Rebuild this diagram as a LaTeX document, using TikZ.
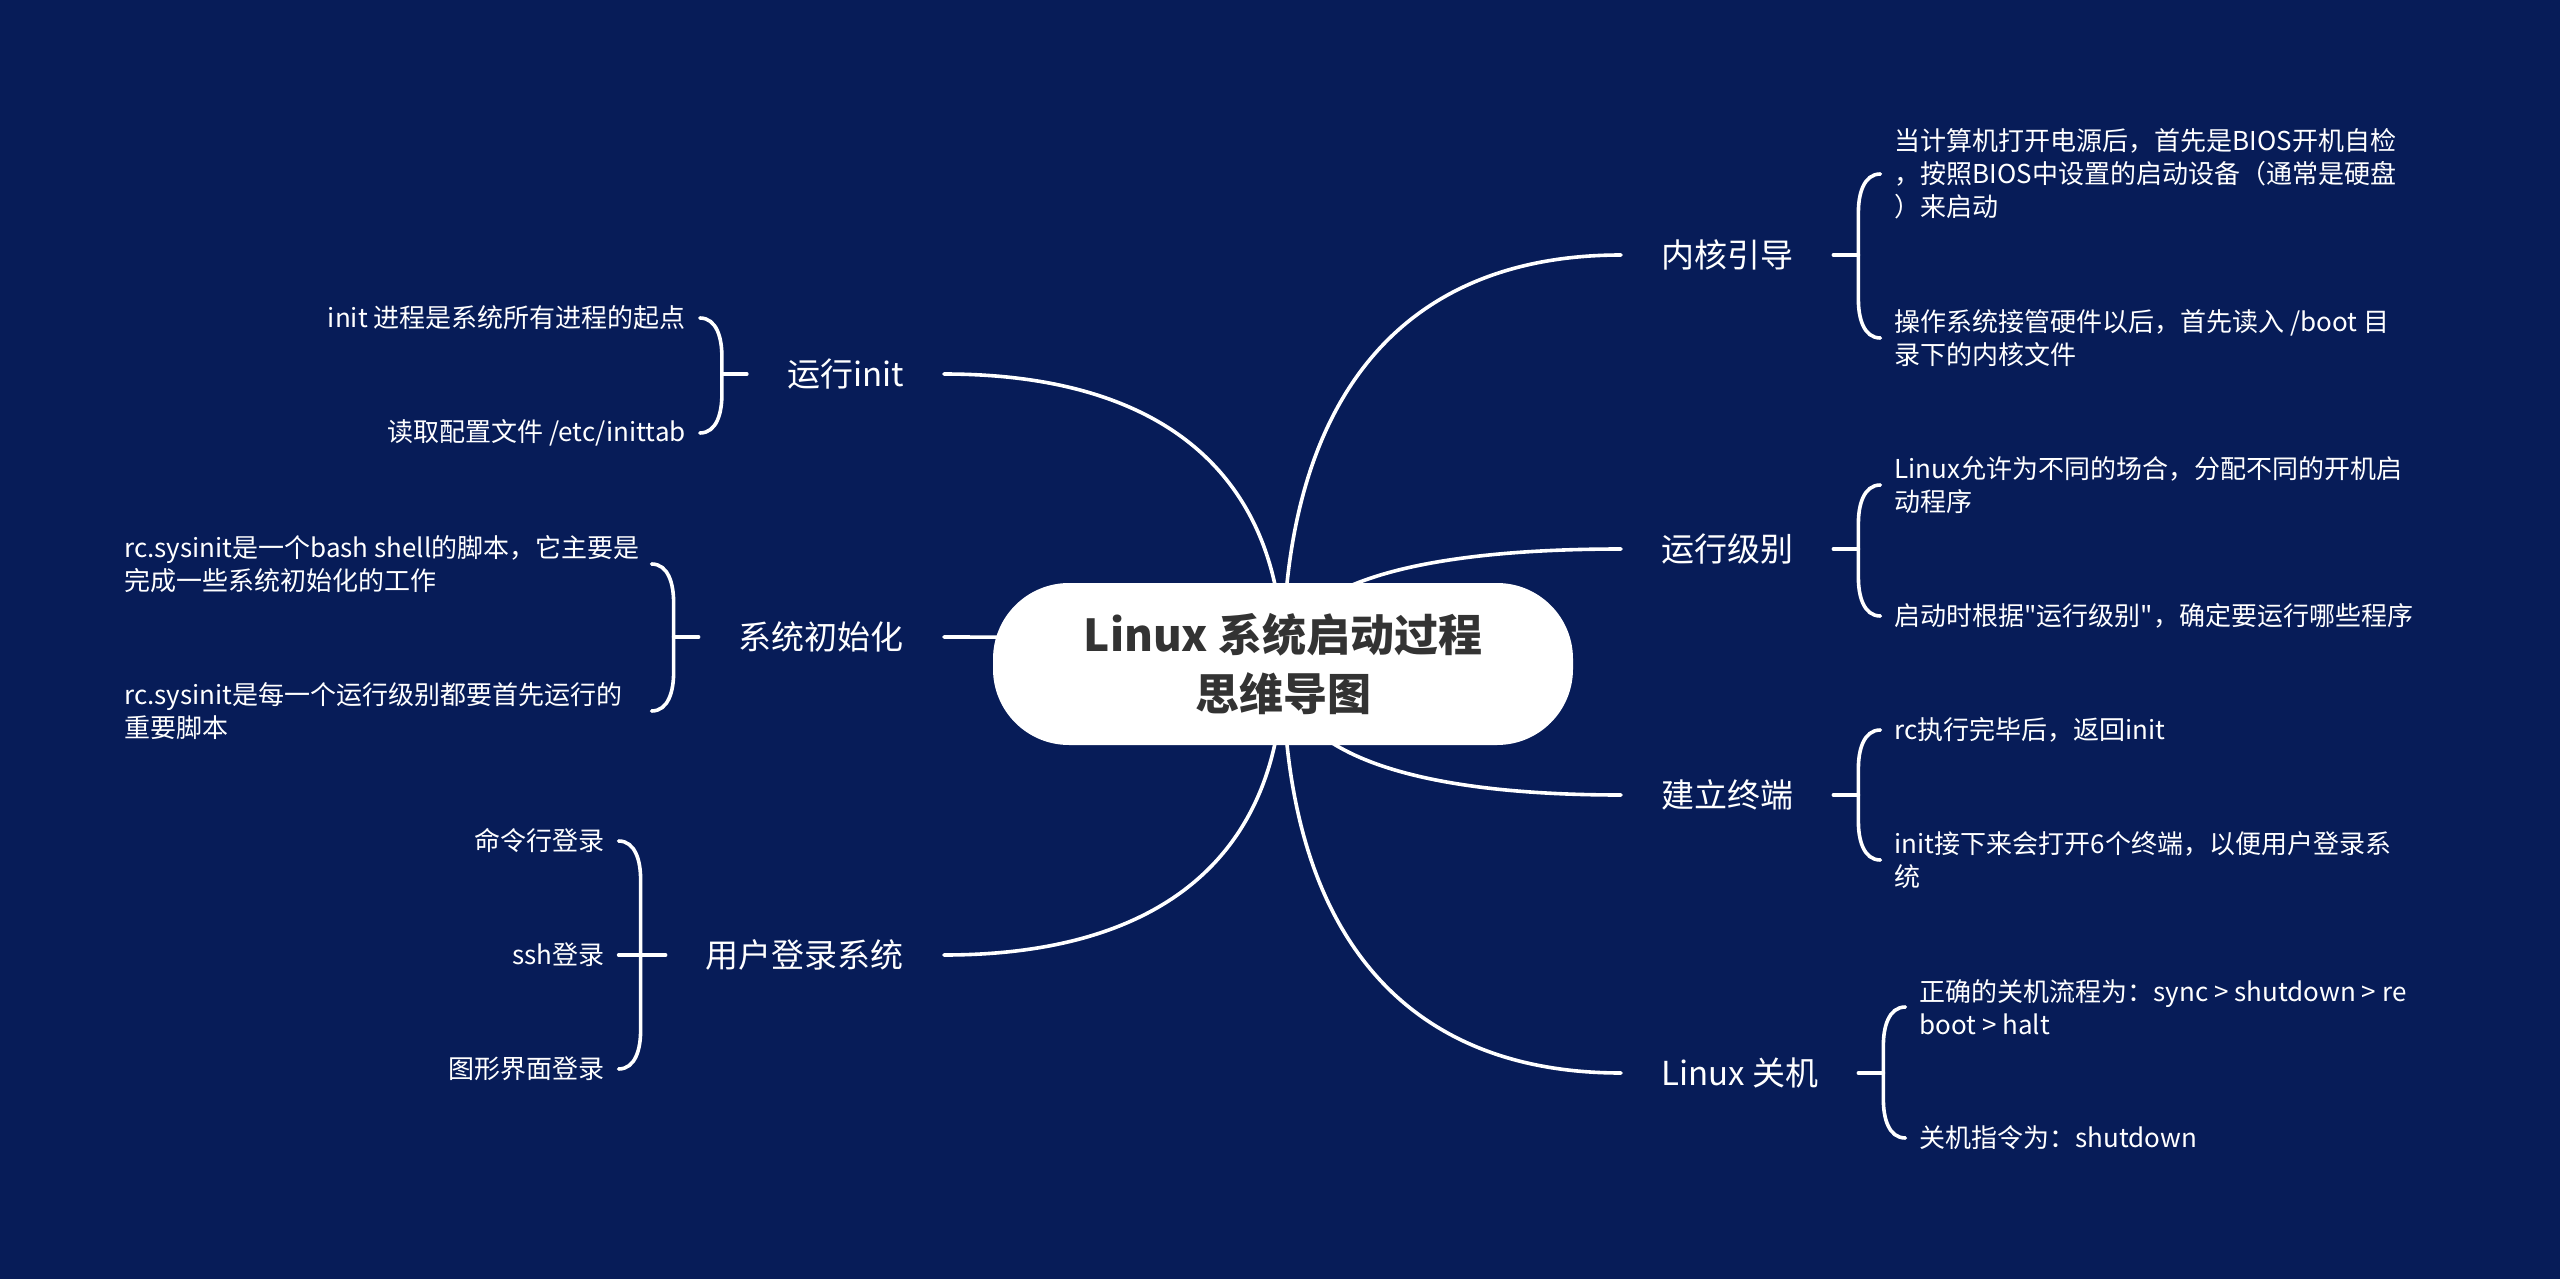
\documentclass[tikz,border=0pt]{standalone}
\usepackage{fontspec}
\setmainfont{Noto Sans CJK SC}[Ligatures=TeXOff]
\usetikzlibrary{calc}
\definecolor{bgnavy}{RGB}{7,28,88}
\definecolor{roottxt}{RGB}{51,51,51}
\pgfdeclarelayer{back}
\pgfdeclarelayer{lines}
\pgfsetlayers{back,lines,main}
\newcommand\mmBrR[3]{\draw[conn] ($(#1|-#2.center)+(22,0)$) to[out=180,in=90] ($(#1|-#2.center)+(0,38)$) -- ($(#1|-#3.center)+(0,-38)$) to[out=-90,in=180] ($(#1|-#3.center)+(22,0)$);}
\newcommand\mmBrL[3]{\draw[conn] ($(#1|-#2.center)+(-22,0)$) to[out=0,in=90] ($(#1|-#2.center)+(0,38)$) -- ($(#1|-#3.center)+(0,-38)$) to[out=-90,in=0] ($(#1|-#3.center)+(-22,0)$);}
\begin{document}
\begin{tikzpicture}[x=1pt,y=-1pt,
  conn/.style={draw=white,line width=3.6pt,line cap=round},
  rootnode/.style={fill=white,rounded corners=76pt,minimum width=580pt,minimum height=162pt,inner sep=0pt,text=roottxt,font=\fontsize{44}{59}\selectfont\bfseries,align=center},
  branch/.style={text=white,font=\fontsize{33}{40}\selectfont,inner xsep=40pt,inner ysep=0pt},
  leaf/.style={text=white,font=\fontsize{26}{33}\selectfont,inner sep=0pt,align=left},
]
\begin{pgfonlayer}{back}
\fill[bgnavy] (0,0) rectangle (2560,1279);
\end{pgfonlayer}
\useasboundingbox (0,0) rectangle (2560,1279);

\node[rootnode] (root) at (1283,664) {Linux 系统启动过程\\思维导图};

% right branches
\node[branch,anchor=west] (b1) at (1621,255) {内核引导};
\node[branch,anchor=west] (b2) at (1621,549) {运行级别};
\node[branch,anchor=west] (b3) at (1621,795) {建立终端};
\node[branch,anchor=west] (b4) at (1621,1073) {Linux 关机};
% left branches
\node[branch,anchor=east] (b5) at (944,374) {运行init};
\node[branch,anchor=east] (b6) at (944,637) {系统初始化};
\node[branch,anchor=east] (b7) at (944,955) {用户登录系统};

\begin{pgfonlayer}{lines}
\foreach \b in {b1,b2,b3,b4}{
  \draw[conn] (root.center) .. controls ($(root.center)!0.65!(root.center |- \b.west)$) and ($(root.center |- \b.west)!0.35!(\b.west)$) .. (\b.west);
}
\foreach \b in {b5,b6,b7}{
  \draw[conn] (root.center) .. controls ($(root.center)!0.65!(root.center |- \b.east)$) and ($(root.center |- \b.east)!0.35!(\b.east)$) .. (\b.east);
}
\end{pgfonlayer}

% ---- 内核引导
\draw[conn] (b1.east) -- ++(25,0) coordinate (k1);
\node[leaf,anchor=west] (c11) at ($(k1)+(36,-81)$) {当计算机打开电源后，首先是BIOS开机自检\\，按照BIOS中设置的启动设备（通常是硬盘\\）来启动};
\node[leaf,anchor=west] (c12) at ($(k1)+(36,83)$) {操作系统接管硬件以后，首先读入 /boot 目\\录下的内核文件};
\mmBrR{k1}{c11}{c12}

% ---- 运行级别
\draw[conn] (b2.east) -- ++(25,0) coordinate (k2);
\node[leaf,anchor=west] (c21) at ($(k2)+(36,-64)$) {Linux允许为不同的场合，分配不同的开机启\\动程序};
\node[leaf,anchor=west] (c22) at ($(k2)+(36,67)$) {启动时根据"运行级别"，确定要运行哪些程序};
\mmBrR{k2}{c21}{c22}

% ---- 建立终端
\draw[conn] (b3.east) -- ++(25,0) coordinate (k3);
\node[leaf,anchor=west] (c31) at ($(k3)+(36,-65)$) {rc执行完毕后，返回init};
\node[leaf,anchor=west] (c32) at ($(k3)+(36,65)$) {init接下来会打开6个终端，以便用户登录系\\统};
\mmBrR{k3}{c31}{c32}

% ---- Linux 关机
\draw[conn] (b4.east) -- ++(25,0) coordinate (k4);
\node[leaf,anchor=west] (c41) at ($(k4)+(36,-66)$) {正确的关机流程为：sync > shutdown > re\\boot > halt};
\node[leaf,anchor=west] (c42) at ($(k4)+(36,65)$) {关机指令为：shutdown};
\mmBrR{k4}{c41}{c42}

% ---- 运行init
\draw[conn] (b5.west) -- ++(-25,0) coordinate (k5);
\node[leaf,anchor=east] (c51) at ($(k5)+(-36,-56)$) {init 进程是系统所有进程的起点};
\node[leaf,anchor=east] (c52) at ($(k5)+(-36,59)$) {读取配置文件 /etc/inittab};
\mmBrL{k5}{c51}{c52}

% ---- 系统初始化
\draw[conn] (b6.west) -- ++(-25,0) coordinate (k6);
\node[leaf,anchor=west] (c61) at (124,564) {rc.sysinit是一个bash shell的脚本，它主要是\\完成一些系统初始化的工作};
\node[leaf,anchor=west] (c62) at (124,711) {rc.sysinit是每一个运行级别都要首先运行的\\重要脚本};
\mmBrL{k6}{c61}{c62}

% ---- 用户登录系统
\draw[conn] (b7.west) -- ++(-25,0) coordinate (k7);
\node[leaf,anchor=east] (c71) at ($(k7)+(-36,-114)$) {命令行登录};
\node[leaf,anchor=east] (c72) at ($(k7)+(-36,0)$) {ssh登录};
\node[leaf,anchor=east] (c73) at ($(k7)+(-36,114)$) {图形界面登录};
\mmBrL{k7}{c71}{c73}
\draw[conn] (k7) -- ($(k7|-c72.center)+(-22,0)$);
\end{tikzpicture}
\end{document}
